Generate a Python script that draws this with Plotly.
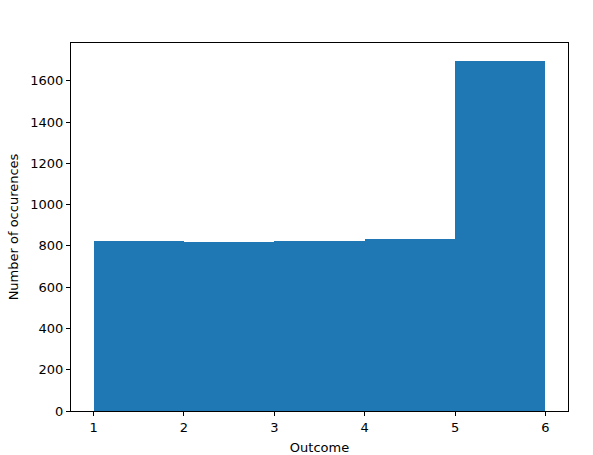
import plotly.graph_objects as go

# histogram of outcomes: bin edges and counts
bin_edges = [1, 2, 3, 4, 5, 6]
counts = [824, 818, 826, 831, 1698]

centers = [(a + b) / 2 for a, b in zip(bin_edges[:-1], bin_edges[1:])]
widths = [b - a for a, b in zip(bin_edges[:-1], bin_edges[1:])]

fig = go.Figure()
fig.add_trace(go.Bar(
    x=centers, y=counts, width=widths,
    marker=dict(color='#1f77b4', line=dict(width=0)),
    showlegend=False
))

axis_style = dict(
    showgrid=False, zeroline=False, automargin=False,
    showline=True, linecolor='black', linewidth=1, mirror=True,
    ticks='outside', ticklen=4, tickcolor='black',
    tickfont=dict(size=13, color='black')
)

fig.update_layout(
    width=593, height=455,
    margin=dict(l=71, r=25, t=43, b=44),
    plot_bgcolor='white', paper_bgcolor='white',
    font=dict(family='DejaVu Sans', size=13, color='black'),
    bargap=0,
    xaxis=dict(range=[0.75, 6.25], tickvals=bin_edges,
               title=dict(text='Outcome', standoff=9, font=dict(size=13)), **axis_style),
    yaxis=dict(range=[0, 1698 * 1.05], tickvals=list(range(0, 1700, 200)),
               title=dict(text='Number of occurences', standoff=8, font=dict(size=13)), **axis_style),
)

# drop the default page margin so the figure sits at the window's corner
fig.write_html("out.html", config={'displayModeBar': False},
               post_script="document.body.style.margin='0';")
